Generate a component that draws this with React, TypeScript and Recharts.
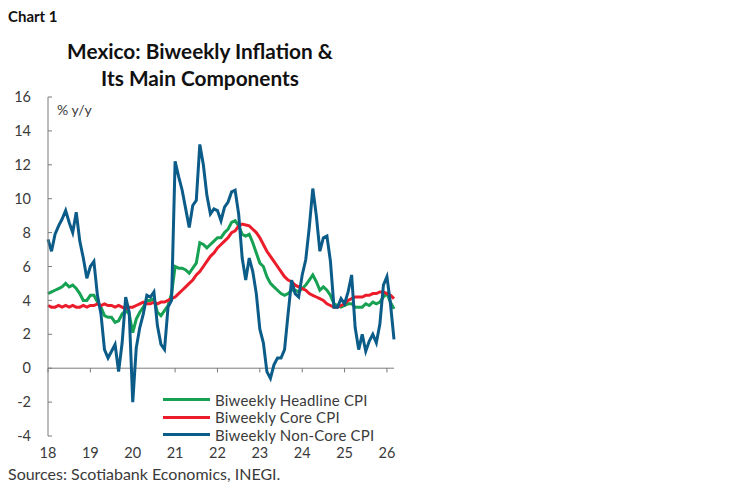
import { LineChart, Line, XAxis, YAxis, ReferenceLine, Legend } from "recharts";

// monthly points starting spring 2018, % y/y
const yearLabels = ["18", "19", "20", "21", "22", "23", "24", "25", "26"];
const yTicks = [-4, -2, 0, 2, 4, 6, 8, 10, 12, 14, 16];

const headline = [
  4.4, 4.5, 4.6, 4.7, 4.8, 5.0, 4.8, 4.9, 4.7, 4.4, 4.0, 4.0,
  4.3, 4.3, 3.9, 3.6, 3.1, 3.0, 3.0, 2.7, 2.8, 3.2, 3.4, 3.2,
  2.1, 2.9, 3.3, 3.6, 4.0, 4.0, 4.1, 3.3, 3.1, 3.4, 3.7, 4.4,
  6.0, 5.9, 5.9, 5.8, 5.6, 5.9, 6.2, 7.4, 7.3, 7.1, 7.3, 7.5,
  7.7, 7.7, 8.0, 8.2, 8.6, 8.7, 8.4, 7.9, 7.8, 7.9, 7.4, 6.8,
  6.2, 6.0, 5.4, 5.0, 4.8, 4.6, 4.4, 4.3, 4.4, 4.6, 4.6, 4.5,
  4.7, 4.9, 5.2, 5.5, 5.1, 4.6, 4.8, 4.6, 4.3, 3.8, 3.7, 3.6,
  3.7, 3.8, 3.8, 3.6, 3.6, 3.6, 3.8, 3.7, 3.9, 3.8, 3.9, 4.2,
  4.4, 3.9, 3.5,
];

const core = [
  3.7, 3.6, 3.6, 3.7, 3.6, 3.7, 3.6, 3.7, 3.6, 3.6, 3.7, 3.6,
  3.7, 3.7, 3.8, 3.7, 3.8, 3.7, 3.7, 3.6, 3.7, 3.6, 3.5, 3.6,
  3.6, 3.7, 3.8, 3.9, 3.8, 3.8, 3.9, 3.8, 3.9, 3.9, 4.0, 4.1,
  4.2, 4.4, 4.6, 4.8, 5.0, 5.2, 5.5, 5.7, 6.0, 6.3, 6.6, 6.8,
  7.1, 7.3, 7.5, 7.7, 8.0, 8.1, 8.4, 8.5, 8.45, 8.4, 8.2, 8.0,
  7.7, 7.3, 6.9, 6.6, 6.3, 6.0, 5.7, 5.4, 5.2, 5.1, 4.9, 4.8,
  4.7, 4.6, 4.4, 4.3, 4.2, 4.1, 4.0, 3.8, 3.7, 3.6, 3.6, 3.7,
  3.8, 4.0, 4.1, 4.2, 4.2, 4.2, 4.3, 4.3, 4.4, 4.4, 4.5, 4.5,
  4.4, 4.3, 4.1,
];

const nonCore = [
  7.6, 6.9, 7.9, 8.4, 8.8, 9.3, 8.6, 8.0, 9.2, 7.5, 6.5, 5.3,
  6.0, 6.3, 4.3, 3.2, 1.1, 0.6, 1.0, 1.4, -0.2, 1.5, 4.2, 3.3,
  -2.0, 1.2, 2.4, 3.2, 4.3, 4.2, 4.5, 2.5, 1.4, 1.1, 3.6, 4.0,
  12.2, 11.3, 10.5, 9.4, 8.3, 9.6, 9.9, 13.2, 12.0, 10.2, 9.1, 9.4,
  9.3, 8.7, 9.5, 9.8, 10.4, 10.5, 9.1, 6.5, 5.2, 6.5, 5.7, 4.4,
  2.3, 1.5, -0.2, -0.6, 0.2, 0.6, 0.6, 1.1, 3.2, 5.2, 4.4, 4.2,
  5.5, 6.4, 8.3, 10.6, 9.0, 6.9, 7.7, 7.8, 6.3, 3.6, 3.6, 4.1,
  3.8, 4.5, 5.5, 2.4, 1.1, 2.0, 1.0, 1.6, 2.0, 1.5, 2.6, 4.9,
  5.4, 3.8, 1.7,
];

const series = [
  { key: "headline", name: "Biweekly Headline CPI", color: "#16a153" },
  { key: "core", name: "Biweekly Core CPI", color: "#ec1d2b" },
  { key: "nonCore", name: "Biweekly Non-Core CPI", color: "#0b5c89" },
];

const data = headline.map((v, i) => ({
  m: i,
  headline: v,
  core: core[i],
  nonCore: nonCore[i],
}));
const xTicks = yearLabels.map((_, i) => i * 12);

const FONT = "Lato, 'Open Sans', sans-serif";
const TEXT = "#3a3a3a";
const AXIS = "#7a7a7a";

function LegendBox() {
  return (
    <div style={{ fontFamily: FONT }}>
      {series.map((s) => (
        <div key={s.key} style={{ display: "flex", alignItems: "center", height: 17.5 }}>
          <div style={{ width: 47, height: 3, background: s.color, marginRight: 5 }} />
          <span
            style={{
              fontSize: 15,
              lineHeight: "16px",
              letterSpacing: 0.2,
              color: TEXT,
              whiteSpace: "nowrap",
            }}
          >
            {s.name}
          </span>
        </div>
      ))}
    </div>
  );
}

export default function App() {
  return (
    <div
      style={{
        position: "absolute",
        left: 0,
        top: 0,
        width: 748,
        height: 483,
        background: "#fff",
        fontFamily: FONT,
      }}
    >
      <div style={{ position: "absolute", left: 8, top: 7, fontSize: 15, fontWeight: 700, color: "#111" }}>
        Chart 1
      </div>
      <div
        style={{
          position: "absolute",
          left: 0,
          width: 400,
          top: 37,
          textAlign: "center",
          fontSize: 20.8,
          lineHeight: "27px",
          fontWeight: 700,
          color: "#111",
        }}
      >
        Mexico: Biweekly Inflation &amp;
        <br />
        Its Main Components
      </div>
      <div style={{ position: "absolute", left: 57, top: 101, fontSize: 14, color: TEXT }}>% y/y</div>

      <LineChart
        width={748}
        height={483}
        data={data}
        margin={{ top: 97, right: 354, bottom: 17, left: 8 }}
      >
        <XAxis
          dataKey="m"
          type="number"
          domain={[0, 98]}
          ticks={xTicks}
          interval={0}
          tickFormatter={(v) => yearLabels[v / 12]}
          axisLine={false}
          tickLine={false}
          tickSize={0}
          tickMargin={12}
          height={30}
          tick={{ fill: TEXT, fontSize: 14.5, fontFamily: FONT }}
        />
        <YAxis
          domain={[-4, 16]}
          ticks={yTicks}
          interval={0}
          width={40}
          axisLine={{ stroke: AXIS }}
          tickLine={{ stroke: AXIS }}
          tickSize={-4}
          tickMargin={21}
          tick={{ fill: TEXT, fontSize: 14.5, fontFamily: FONT }}
        />
        <ReferenceLine y={0} stroke={AXIS} />
        {xTicks.map((t) => (
          <ReferenceLine
            key={t}
            segment={[
              { x: t, y: 0 },
              { x: t, y: -0.25 },
            ]}
            stroke={AXIS}
          />
        ))}
        {series.map((s) => (
          <Line
            key={s.key}
            dataKey={s.key}
            name={s.name}
            stroke={s.color}
            strokeWidth={3}
            dot={false}
            type="linear"
            isAnimationActive={false}
          />
        ))}
        <Legend
          content={<LegendBox />}
          layout="vertical"
          align="center"
          verticalAlign="middle"
          wrapperStyle={{ position: "absolute", left: 163, top: 391, width: 240 }}
        />
      </LineChart>

      <div style={{ position: "absolute", left: 8, top: 464, fontSize: 16, color: TEXT }}>
        Sources: Scotiabank Economics, INEGI.
      </div>
    </div>
  );
}
